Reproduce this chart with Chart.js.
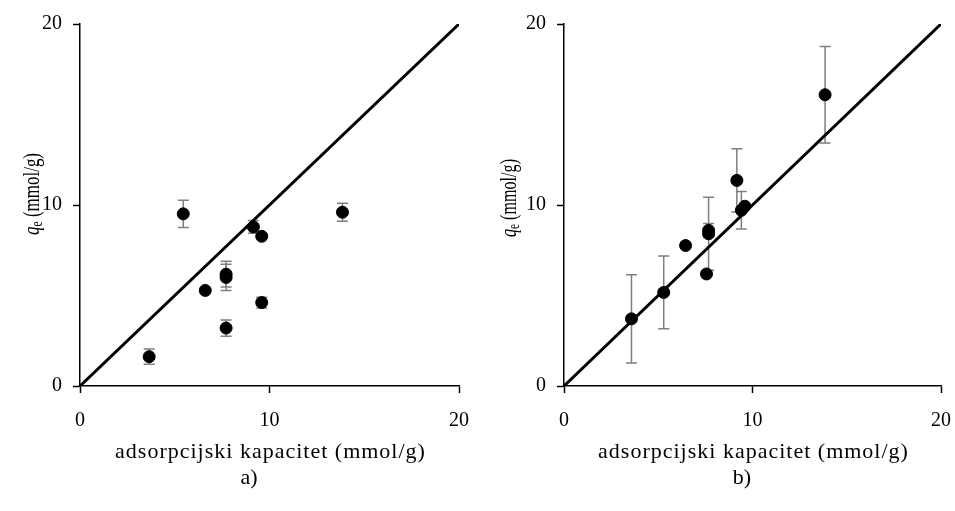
<!DOCTYPE html>
<html>
<head>
<meta charset="utf-8">
<script src="https://cdn.jsdelivr.net/npm/chart.js@4.4.0/dist/chart.umd.min.js"></script>
<style>
  html, body { margin: 0; padding: 0; background: #fff; }
  .panel { position: absolute; top: 0; height: 511px; }
  #left { left: 0; width: 477px; }
  #right { left: 477px; width: 478px; }
</style>
</head>
<body>
<div class="panel" id="left"><canvas id="chartA"></canvas></div>
<div class="panel" id="right"><canvas id="chartB"></canvas></div>
<script>
// a) adsorpcijski kapacitet vs qe
const capA = [3.65, 5.45, 6.61, 7.71, 7.71, 7.71, 9.15, 9.59, 9.59, 13.85];
const qeA  = [1.62, 9.51, 5.28, 6.18, 6.00, 3.20, 8.79, 8.27, 4.61, 9.60];
const errA = [0.42, 0.75, 0,    0.71, 0.72, 0.45, 0.35, 0,    0.30, 0.50];

// b)
const capB = [3.58, 5.29, 6.45, 7.56, 7.67, 7.67, 9.17, 9.41, 9.59, 13.85];
const qeB  = [3.71, 5.17, 7.76, 6.19, 8.60, 8.41, 11.36, 9.71, 9.93, 16.09];
const errB = [2.44, 2.01, 0,    0,    0.38, 2.02, 1.75, 1.03, 0,    2.67];

// 1:1 line and axis ticks
const diag = [0, 20];
const axisTicks = [0, 10, 20];

const xTitle = 'adsorpcijski kapacitet (mmol/g)';
const serif = '"Liberation Serif", "Times New Roman", serif';

// vertical error bars, drawn under the points
const errorBars = {
  id: 'errorBars',
  beforeDatasetsDraw(chart, args, opts) {
    const ctx = chart.ctx;
    const x = chart.scales.x, y = chart.scales.y;
    const pts = chart.data.datasets[0].data;
    ctx.save();
    ctx.strokeStyle = '#7f7f7f';
    ctx.lineWidth = 1.5;
    pts.forEach((p, i) => {
      const e = opts.err[i];
      if (!e) return;
      const px = x.getPixelForValue(p.x);
      const top = y.getPixelForValue(p.y + e);
      const bot = y.getPixelForValue(p.y - e);
      ctx.beginPath();
      ctx.moveTo(px, top); ctx.lineTo(px, bot);
      ctx.moveTo(px - 5.5, top); ctx.lineTo(px + 5.5, top);
      ctx.moveTo(px - 5.5, bot); ctx.lineTo(px + 5.5, bot);
      ctx.stroke();
    });
    ctx.restore();
  }
};

// axis titles (q italic with subscript e) and the panel letter
const titles = {
  id: 'titles',
  afterDraw(chart, args, opts) {
    const ctx = chart.ctx;
    const area = chart.chartArea;
    ctx.save();
    ctx.fillStyle = '#000';
    ctx.textAlign = 'center';
    ctx.textBaseline = 'middle';

    ctx.font = '22px ' + serif;
    ctx.letterSpacing = '1px';
    ctx.fillText(xTitle, (area.left + area.right) / 2 + 1, 452);
    ctx.letterSpacing = '0px';
    ctx.fillText(opts.panel, opts.panelX, 478);

    // y title
    const parts = [
      { t: 'q', f: 'italic 23px ' + serif, dy: 0 },
      { t: 'e', f: '16px ' + serif, dy: 3 },
      { t: ' (mmol/g)', f: '23px ' + serif, dy: 0 }
    ];
    let w = 0;
    parts.forEach(p => { ctx.font = p.f; p.w = ctx.measureText(p.t).width; w += p.w; });
    ctx.translate(opts.yTitleX, opts.yTitleY);
    ctx.rotate(-Math.PI / 2);
    ctx.scale(opts.yTitleLen / w, 1);
    ctx.textAlign = 'left';
    ctx.textBaseline = 'alphabetic';
    let cx = -w / 2;
    parts.forEach(p => {
      ctx.font = p.f;
      ctx.fillText(p.t, cx, p.dy);
      cx += p.w;
    });
    ctx.restore();
  }
};

function axis(pad, fit) {
  return {
    type: 'linear',
    min: 0,
    max: 20,
    afterBuildTicks: s => { s.ticks = axisTicks.map(v => ({ value: v })); },
    ticks: { font: { family: serif, size: 20 }, color: '#000', padding: pad },
    grid: { drawOnChartArea: false, drawTicks: true, tickLength: 7, color: '#000', tickWidth: 1.5 },
    border: { color: '#000', width: 1.5 },
    afterFit: fit
  };
}

function buildChart(id, xs, ys, errs, o) {
  const ctx = document.getElementById(id).getContext('2d');
  return new Chart(ctx, {
    data: {
      datasets: [
        {
          type: 'scatter',
          data: xs.map((v, i) => ({ x: v, y: ys[i] })),
          pointRadius: 6,
          pointBackgroundColor: '#000',
          pointBorderColor: '#000',
          pointBorderWidth: 1
        },
        {
          type: 'line',
          data: diag.map(v => ({ x: v, y: v })),
          borderColor: '#000',
          borderWidth: 3,
          pointRadius: 0
        }
      ]
    },
    options: {
      responsive: true,
      maintainAspectRatio: false,
      animation: false,
      events: [],
      layout: { padding: { top: 24, right: o.padRight, left: 0, bottom: 0 } },
      scales: {
        x: axis(16, s => { s.height = 125; s.paddingLeft = 0; s.paddingRight = 0; }),
        y: axis(11, s => { s.width = o.yWidth; s.paddingTop = 0; s.paddingBottom = 0; })
      },
      plugins: {
        legend: { display: false },
        tooltip: { enabled: false },
        errorBars: { err: errs },
        titles: { panel: o.panel, panelX: o.panelX, yTitleX: 39, yTitleY: o.yTitleY, yTitleLen: o.yTitleLen }
      }
    },
    plugins: [errorBars, titles]
  });
}

buildChart('chartA', capA, qeA, errA, { padRight: 18, yWidth: 80, panel: 'a)', panelX: 249, yTitleY: 194, yTitleLen: 82 });
buildChart('chartB', capB, qeB, errB, { padRight: 14, yWidth: 87, panel: 'b)', panelX: 265, yTitleY: 198, yTitleLen: 78 });
</script>
</body>
</html>
